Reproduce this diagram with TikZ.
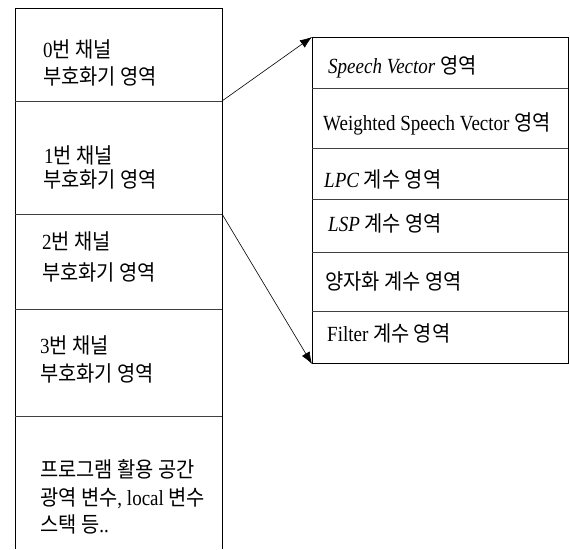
\documentclass[tikz,border=0pt]{standalone}
\usepackage{fontspec}
\usepackage{graphicx}
\setmainfont{Liberation Serif}
\newfontfamily\krfont[Scale=1.1]{Noto Sans CJK KR}
\usetikzlibrary{arrows.meta}
\newcommand{\kt}[1]{\scalebox{0.9}[0.98]{\krfont #1}}
\newcommand{\lt}[1]{\scalebox{0.95}[1.08]{#1}}
\begin{document}
\begin{tikzpicture}[x=1pt,y=-1pt,
  border/.style={draw=black,line width=1pt},
  divider/.style={draw=black!75,line width=0.8pt},
  conn/.style={draw=black,line width=0.6pt,-{Latex[length=12pt,width=9pt]}},
  lbl/.style={anchor=base west,inner sep=0pt,font=\fontsize{20}{22}\selectfont}]
\useasboundingbox (0,0) rectangle (570,549);
\fill[white] (0,0) rectangle (570,549);
% left memory map
\draw[border] (15,549) -- (15,8) -- (222,8) -- (222,549);
\foreach \yy in {101,214,309,416} \draw[divider] (15,\yy) -- (222,\yy);
\coordinate (l0) at (222,101);
\coordinate (l1) at (222,214);
\node[lbl] (a1) at (43,57) {\lt{0}\kt{번 채널}};
\node[lbl] (a2) at (43,84) {\kt{부호화기 영역}};
\node[lbl] (b1) at (44,163) {\lt{1}\kt{번 채널}};
\node[lbl] (b2) at (43,187) {\kt{부호화기 영역}};
\node[lbl] (c1) at (42,249) {\lt{2}\kt{번 채널}};
\node[lbl] (c2) at (42,280) {\kt{부호화기 영역}};
\node[lbl] (d1) at (40,353) {\lt{3}\kt{번 채널}};
\node[lbl] (d2) at (40,381) {\kt{부호화기 영역}};
\node[lbl] (e1) at (40,477) {\kt{프로그램 활용 공간}};
\node[lbl] (e2) at (40,505) {\kt{광역 변수}\lt{, local }\kt{변수}};
\node[lbl] (e3) at (40,532) {\kt{스택 등}\lt{..}};
% right detail box
\node[border,anchor=north west,minimum width=256pt,minimum height=326pt,inner sep=0pt] (rbox) at (312,37) {};
\foreach \yy in {88,148,199,252,311} \draw[divider] (312,\yy) -- (568,\yy);
\node[lbl] (r1) at (328,73) {\lt{\textit{Speech Vector} }\kt{영역}};
\node[lbl] (r2) at (323,130) {\lt{Weighted Speech Vector }\kt{영역}};
\node[lbl] (r3) at (324,187) {\lt{\textit{LPC} }\kt{계수 영역}};
\node[lbl] (r4) at (328,231) {\lt{\textit{LSP} }\kt{계수 영역}};
\node[lbl] (r5) at (325,289) {\kt{양자화 계수 영역}};
\node[lbl] (r6) at (327,341) {\lt{Filter }\kt{계수 영역}};
% connectors
\draw[conn] (l0) -- (rbox.north west);
\draw[conn] (l1) -- (rbox.south west);
\end{tikzpicture}
\end{document}
